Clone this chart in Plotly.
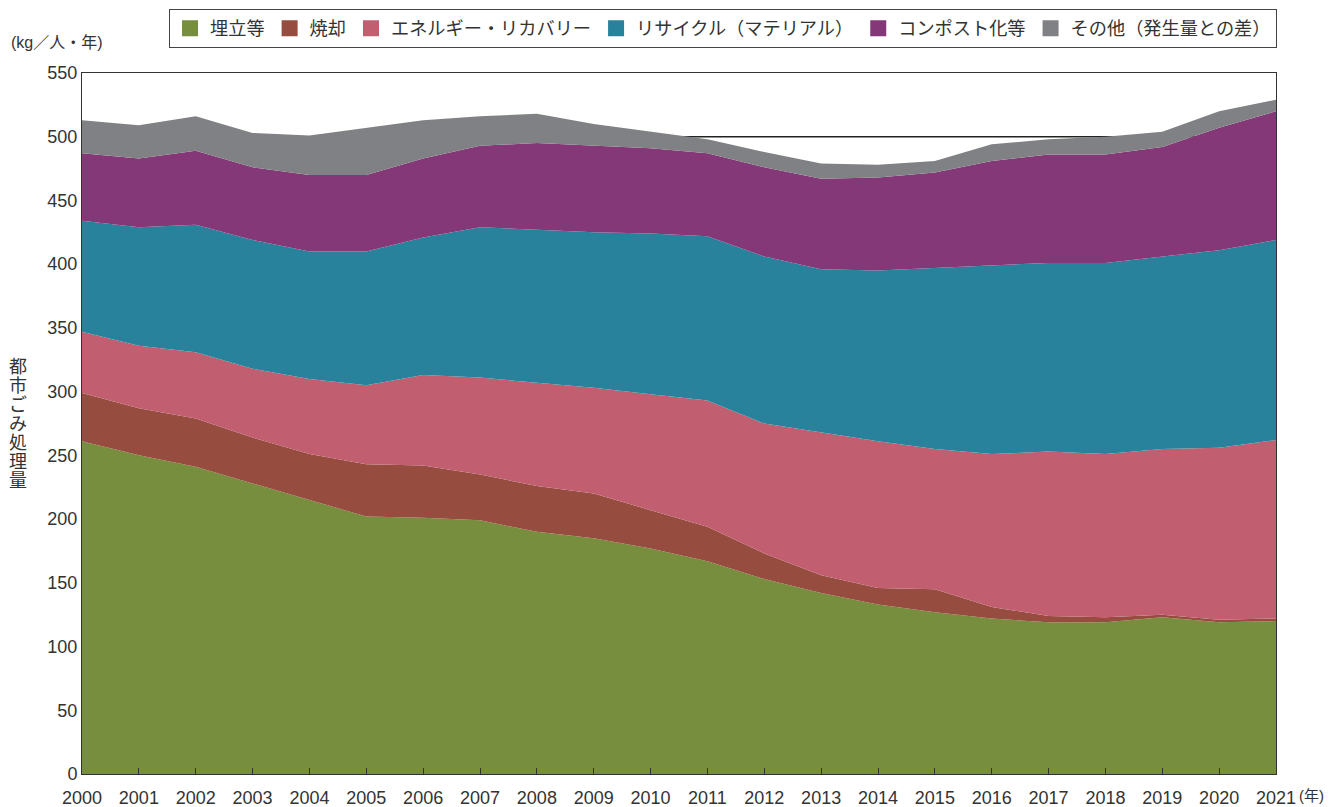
import plotly.graph_objects as go

years = list(range(2000, 2022))
landfill = [261, 250, 241, 228, 215, 202, 201, 199, 190, 185, 177, 167, 153, 142, 133, 127, 122, 119, 119, 123, 119, 120]
incineration = [38, 37, 38, 36, 36, 41, 41, 36, 36, 35, 30, 27, 20, 14, 13, 18, 9, 5, 4, 2, 2, 2]
energy_recovery = [48, 49, 52, 54, 59, 62, 71, 76, 81, 83, 91, 99, 102, 112, 115, 110, 120, 129, 128, 130, 135, 140]
recycling = [87, 93, 100, 101, 100, 105, 108, 118, 120, 122, 126, 129, 131, 128, 134, 142, 148, 148, 150, 151, 155, 157]
compost = [53, 54, 58, 57, 60, 60, 62, 64, 68, 68, 67, 65, 70, 71, 73, 75, 82, 85, 85, 86, 96, 101]
other = [26, 26, 27, 27, 31, 37, 30, 23, 23, 17, 13, 11, 12, 12, 10, 9, 13, 12, 14, 12, 13, 9]
ref_level = 500

series_names = ["埋立等", "焼却", "エネルギー・リカバリー", "リサイクル（マテリアル）", "コンポスト化等", "その他（発生量との差）"]
series_values = [landfill, incineration, energy_recovery, recycling, compost, other]
colors = ["#768E3E", "#964C3E", "#C15F71", "#28829C", "#853877", "#808185"]
y_ticks = list(range(0, 551, 50))

FONT = "Liberation Sans, Arial, Noto Sans CJK JP, sans-serif"
TXT = "#333333"

fig = go.Figure()
fig.add_trace(go.Scatter(x=[years[0], years[-1]], y=[ref_level, ref_level], mode="lines",
                         line=dict(color="#222222", width=1.5), showlegend=False, hoverinfo="skip"))
for name, vals, col in zip(series_names, series_values, colors):
    fig.add_trace(go.Scatter(x=years, y=vals, name=name, mode="lines", stackgroup="one",
                             line=dict(width=0, color=col), fillcolor=col, showlegend=False))
# legend entries with square swatches
for name, col in zip(series_names, colors):
    fig.add_trace(go.Scatter(x=[None], y=[None], name=name, mode="markers",
                             marker=dict(symbol="square", size=17, color=col), showlegend=True))

# page body adds an 8px offset, so the figure is sized/margined to compensate
fig.update_layout(
    width=1334, height=799,
    margin=dict(l=74, r=66, t=65, b=33, autoexpand=False),
    paper_bgcolor="white", plot_bgcolor="white",
    font=dict(family=FONT, size=18, color=TXT),
    showlegend=True,
    legend=dict(orientation="h", x=0.536, xanchor="center", y=0.999, yanchor="top",
                xref="container", yref="container",
                bordercolor="#444444", borderwidth=1, bgcolor="white",
                font=dict(size=18.2, color=TXT), traceorder="normal",
                itemwidth=30),
    xaxis=dict(range=[2000, 2021], tickmode="array", tickvals=years, ticktext=[str(y) for y in years],
               ticks="inside", ticklen=6, tickcolor="#333333", showgrid=False, zeroline=False,
               showline=True, linecolor="#333333", linewidth=1, mirror=True,
               ticklabelstandoff=7,
               tickfont=dict(size=18, color=TXT)),
    yaxis=dict(range=[0, 550], tickmode="array", tickvals=y_ticks, ticks="", showgrid=False,
               zeroline=False, showline=True, linecolor="#333333", linewidth=1, mirror=True,
               tickfont=dict(size=18, color=TXT)),
)

fig.add_annotation(text="(kg／人・年)", xref="paper", yref="paper", x=-0.0615, y=1.028,
                   xanchor="left", yanchor="bottom", showarrow=False, font=dict(size=16, color=TXT))
fig.add_annotation(text="(年)", xref="paper", yref="paper", x=1.0175, y=-0.015,
                   xanchor="left", yanchor="top", showarrow=False, font=dict(size=15, color=TXT))
# vertical axis title, one character per line
title_chars = list("都市ごみ処理量")
for i, ch in enumerate(title_chars):
    fig.add_annotation(text=ch, xref="paper", yref="paper",
                       x=(18 - 82) / 1194, y=1 - ((367 + 19 * i) - 73) / 701,
                       xanchor="center", yanchor="middle", showarrow=False,
                       font=dict(size=18, color=TXT))

fig.write_html("out.html")
